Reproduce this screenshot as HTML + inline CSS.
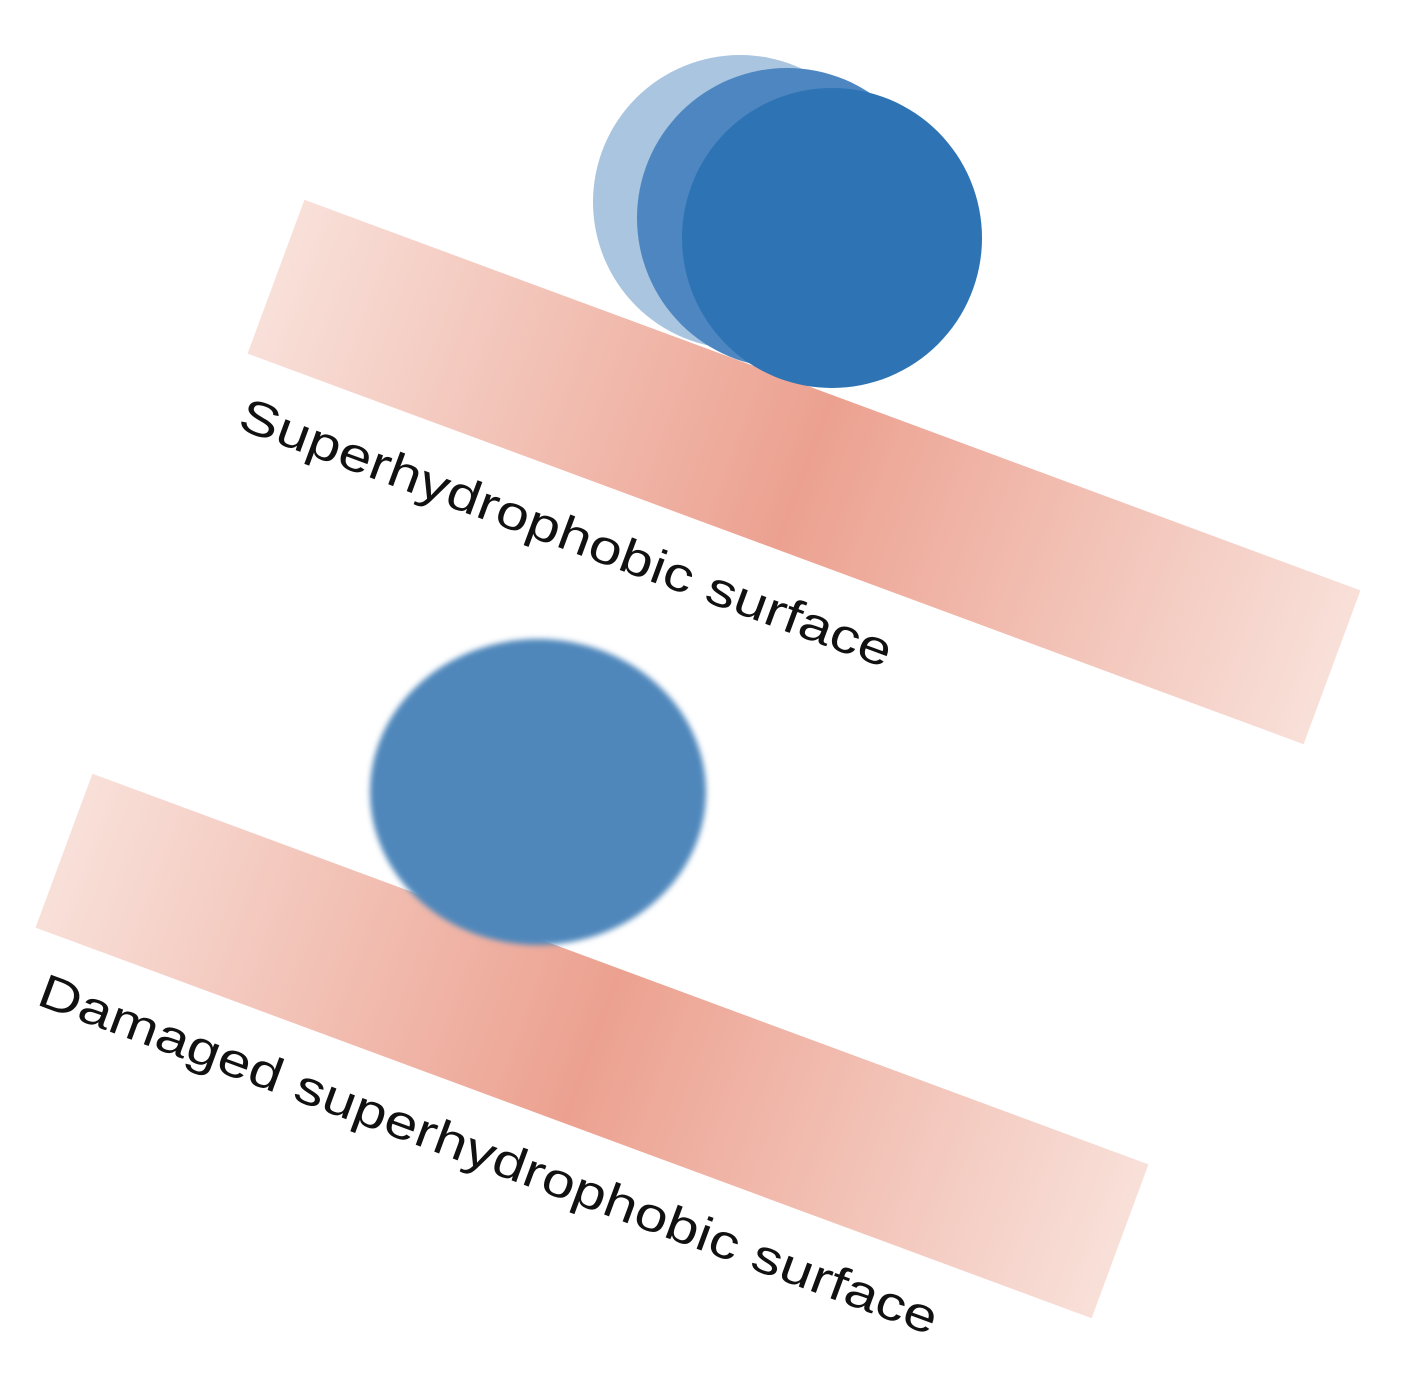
<!DOCTYPE html>
<html><head><meta charset="utf-8"><style>html,body{margin:0;padding:0;background:#fff}svg{display:block}</style></head>
<body>
<svg width="1401" height="1375" viewBox="0 0 1401 1375" xmlns="http://www.w3.org/2000/svg">
<defs>
<linearGradient id="g" x1="0" y1="0" x2="1" y2="0">
<stop offset="0" stop-color="#f8e0d9"/>
<stop offset="0.5" stop-color="#eca190"/>
<stop offset="1" stop-color="#f8e0d9"/>
</linearGradient>
<filter id="b"><feGaussianBlur stdDeviation="3"/></filter>
</defs>
<g transform="translate(804,472) rotate(20.3)">
<rect x="-563" y="-82" width="1126" height="164" fill="url(#g)"/>
</g>
<g transform="translate(592,1046) rotate(20.3)">
<rect x="-563" y="-82" width="1126" height="164" fill="url(#g)"/>
</g>
<ellipse cx="740" cy="202" rx="147" ry="147" fill="#a9c5e0"/>
<ellipse cx="787" cy="218" rx="150" ry="150" fill="#4d86c0"/>
<ellipse cx="832" cy="238" rx="150" ry="150" fill="#2e74b5"/>
<ellipse cx="538" cy="792" rx="168" ry="153" fill="#5087bb" filter="url(#b)"/>
<text transform="translate(236,428) rotate(20.3)" font-family="Liberation Sans, sans-serif" font-size="48" fill="#111" textLength="692" lengthAdjust="spacingAndGlyphs">Superhydrophobic surface</text>
<text transform="translate(35,1004) rotate(20.3)" font-family="Liberation Sans, sans-serif" font-size="48" fill="#111" textLength="955" lengthAdjust="spacingAndGlyphs">Damaged superhydrophobic surface</text>
</svg>
</body></html>
